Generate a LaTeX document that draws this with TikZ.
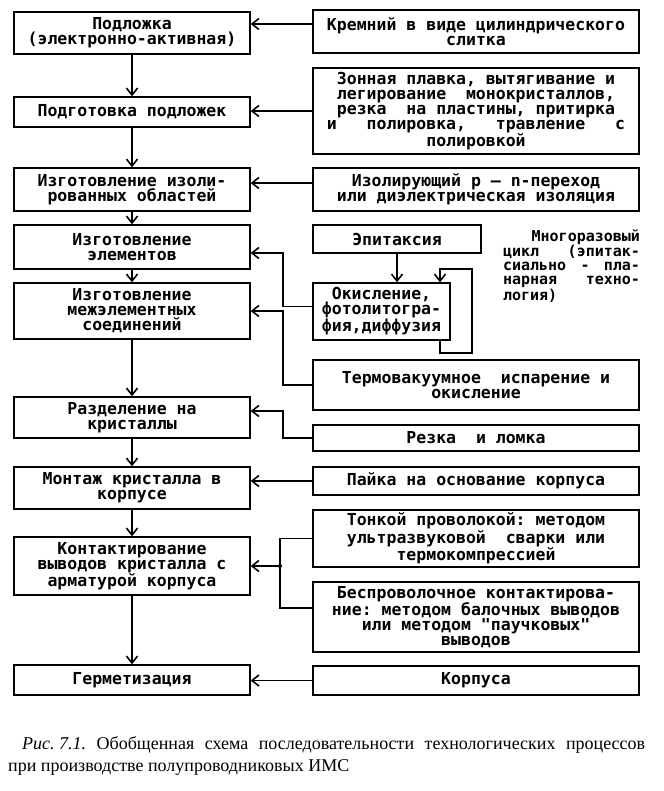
\documentclass[tikz,border=0pt]{standalone}
\usepackage{fontspec}
\setmainfont{Liberation Serif}
\setmonofont{DejaVu Sans Mono}
\usepackage{tikz}
\usetikzlibrary{arrows.meta}
\tikzset{>={Straight Barb[length=7pt,width=11pt,line width=1.6pt]}}
\tikzstyle{blok} = [rectangle, draw=black, line width=1.3pt, align=center, inner sep=1pt, font=\ttfamily\bfseries\fontsize{16.5}{15}\selectfont]
\tikzstyle{lft} = [blok, minimum width=236pt]
\tikzstyle{rgt} = [blok, minimum width=326pt]
\tikzstyle{con} = [->, line width=1.3pt]

\begin{document}
\begin{tikzpicture}[x=1pt, y=-1pt]
\useasboundingbox (0,0) rectangle (663,791);
% main sequence
\node [lft, minimum height=42pt] (S1) at (132,33) {Подложка\\(электронно-активная)};
\node [lft, minimum height=30pt] (S2) at (132,112) {Подготовка подложек};
\node [lft, minimum height=43pt] (S3) at (132,189.5) {Изготовление изоли-\\рованных областей};
\node [lft, minimum height=44pt] (S4) at (132,247) {Изготовление\\элементов};
\node [lft, minimum height=56pt] (S5) at (132,311) {Изготовление\\межэлементных\\соединений};
\node [lft, minimum height=41pt] (S6) at (132,417.5) {Разделение на\\кристаллы};
\node [lft, minimum height=42pt] (S7) at (132,488) {Монтаж кристалла в\\корпусе};
\node [lft, minimum height=58pt] (S8) at (132,566) {Контактирование\\выводов кристалла с\\арматурой корпуса};
\node [lft, minimum height=30pt] (S9) at (132,680) {Герметизация};
\foreach \a/\b in {S1/S2, S2/S3, S3/S4, S4/S5, S5/S6, S6/S7, S7/S8, S8/S9}
  \draw [con] (\a) -- (\b);

% materials and methods
\node [rgt, minimum height=43pt] (M1) at (476,31.5) {Кремний в виде цилиндрического\\слитка};
\node [rgt, minimum height=86pt] (M2) at (476,111) {Зонная плавка, вытягивание и\\легирование\ \ монокристаллов,\\резка\ \ на пластины, притирка\\и\ \ \ полировка,\ \ \ травление\ \ \ с\\полировкой};
\node [rgt, minimum height=43pt] (M3) at (476,189.5) {Изолирующий p — n-переход\\или диэлектрическая изоляция};
\node [blok, minimum width=168pt, minimum height=28pt] (E) at (397,239) {Эпитаксия};
\node [blok, minimum width=137pt, minimum height=57pt] (O) at (381.5,311.5) {Окисление,\\фотолитогра-\\фия,диффузия};
\node [align=left, inner sep=0pt, font=\ttfamily\bfseries\fontsize{15}{14}\selectfont] (T) at (571.5,266) {\makebox[137pt][r]{Многоразовый}\\
  \makebox[137pt][s]{цикл\hfill(эпитак-}\\
  \makebox[137pt][s]{сиально\hfill-\hfill пла-}\\
  \makebox[137pt][s]{нарная\hfill техно-}\\
  \makebox[137pt][l]{логия)}};
\node [rgt, minimum height=50pt] (M4) at (476,385) {Термовакуумное\ \ испарение и\\окисление};
\node [rgt, minimum height=26pt] (M5) at (476,438) {Резка\ \ и ломка};
\node [rgt, minimum height=28pt] (M6) at (476,481) {Пайка на основание корпуса};
\node [rgt, minimum height=57pt] (M7) at (476,538.5) {Тонкой проволокой: методом\\ультразвуковой\ \ сварки или\\термокомпрессией};
\node [rgt, minimum height=70pt] (M8) at (476,617) {Беспроволочное контактирова-\\ние: методом балочных выводов\\или методом "паучковых"\\выводов};
\node [rgt, minimum height=29pt] (M9) at (476,680.5) {Корпуса};

% connector levels
\coordinate (k1) at (0,24);
\coordinate (k3) at (0,183);
\coordinate (kx) at (283,0);
\coordinate (kj) at (280,0);
\coordinate (b4) at ([yshift=5pt]O.west);
\coordinate (a4) at ([yshift=-6pt]S4.east);
\coordinate (a6) at ([yshift=6.5pt]S6.east);
\coordinate (b8) at ([yshift=9pt]M8.west);
\coordinate (j) at (kj |- S8.east);
\coordinate (p1) at (440,353);
\coordinate (p2) at (472,269);

\draw [con] (M1.west |- k1) -- (S1.east |- k1);
\draw [con] (M2.west) -- (M2.west -| S2.east);
\draw [con] (M3.west |- k3) -- (S3.east |- k3);
\draw [con] (b4) -- (b4 -| kx) |- (a4);
\draw [con] (M4.west) -- (M4.west -| kx) |- (S5.east);
\draw [con] (M5.west) -- (M5.west -| kx) |- (a6);
\draw [con] (M6.west) -- (M6.west -| S7.east);
\draw [line width=1.3pt] (M7.west) -| (j) |- (b8);
\draw [con] (j) -- (S8.east);
\fill (j) circle (2pt);
\draw [con] (M9.west) -- (M9.west -| S9.east);

% repeated cycle
\draw [con] (E.south) -- (E.south |- O.north);
\draw [con] (O.south -| p1) -- (p1) -| (p2) -- (p2 -| p1) -- (O.north -| p1);

% caption
\node [anchor=base west, inner sep=0pt, font=\fontsize{18}{22}\selectfont] (C1) at (22,749) {\makebox[623pt][s]{\mbox{\textit{Рис.\ 7.1.}} Обобщенная схема последовательности технологических процессов}};
\node [anchor=base west, inner sep=0pt, font=\fontsize{18}{22}\selectfont] (C2) at (8,771) {при производстве полупроводниковых ИМС};
\end{tikzpicture}
\end{document}
